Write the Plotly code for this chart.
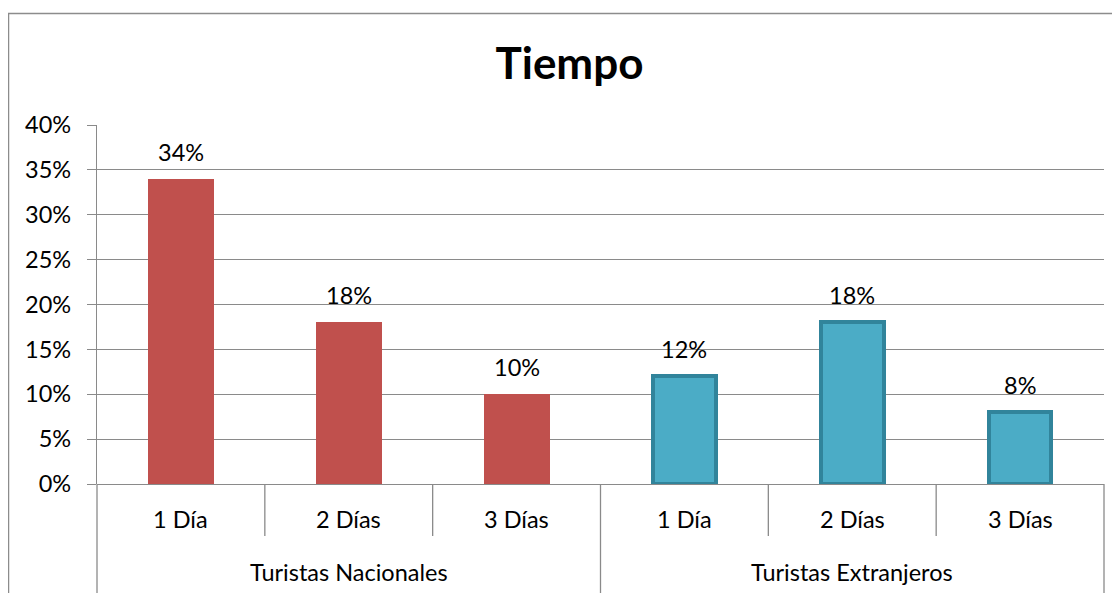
import plotly.graph_objects as go

# ---- data ----
groups = ["Turistas Nacionales", "Turistas Extranjeros"]
days = ["1 Día", "2 Días", "3 Días"]
nacionales = [0.34, 0.18, 0.10]
extranjeros = [0.12, 0.18, 0.08]
y_ticks = [0, 0.05, 0.10, 0.15, 0.20, 0.25, 0.30, 0.35, 0.40]

FONT = "Lato"
FS = 23.5
GRID = "#8A8A8A"
RED = "#C0504D"
BLUE = "#4BACC6"
BLUE_EDGE = "#31849B"

# page body has an 8px margin; compensate so the chart lands on the window grid
OFF = 8
W, H = 1120 - OFF, 593 - OFF

n_cat = len(groups) * len(days)
pos_nac = [i + 0.5 for i in range(len(days))]
pos_ext = [len(days) + i + 0.5 for i in range(len(days))]
BAR_W = 0.393

fig = go.Figure()
fig.add_trace(go.Bar(x=pos_nac, y=nacionales, width=BAR_W,
                     marker=dict(color=RED, line=dict(width=0)),
                     name=groups[0], hoverinfo="y"))
fig.add_trace(go.Bar(x=pos_ext, y=extranjeros, width=BAR_W - 0.02,
                     marker=dict(color=BLUE, line=dict(color=BLUE_EDGE, width=4)),
                     name=groups[1], hoverinfo="y"))

annotations = []
# data labels
for xs, vals in ((pos_nac, nacionales), (pos_ext, extranjeros)):
    for x, v in zip(xs, vals):
        annotations.append(dict(x=x, y=v, xref="x", yref="y", text=f"{round(v*100)}%",
                                showarrow=False, yanchor="middle", yshift=27,
                                font=dict(family=FONT, size=FS, color="#000000")))
# category labels
for gi, g in enumerate(groups):
    for di, d in enumerate(days):
        annotations.append(dict(x=gi * len(days) + di + 0.5, y=0, xref="x", yref="paper",
                                text=d, showarrow=False, yanchor="middle", yshift=-35,
                                font=dict(family=FONT, size=FS, color="#000000")))
    annotations.append(dict(x=gi * len(days) + len(days) / 2, y=0, xref="x", yref="paper",
                            text=g, showarrow=False, yanchor="middle", yshift=-88,
                            font=dict(family=FONT, size=FS, color="#000000")))

PLOT_H = 359
PLOT_W = 1007
shapes = []
for k in range(n_cat + 1):
    xp = k / n_cat
    is_group = (k % len(days) == 0)
    y_end = -115 / PLOT_H if is_group else -52 / PLOT_H
    shapes.append(dict(type="line", xref="paper", yref="paper", x0=xp, x1=xp,
                       y0=0, y1=y_end, line=dict(color=GRID, width=1.3)))
# outer chart border
shapes.append(dict(type="rect", xref="paper", yref="paper",
                   x0=(8.5 - 97) / PLOT_W, x1=(1130 - 97) / PLOT_W,
                   y0=(484 - 620) / PLOT_H, y1=(484 - 13.5) / PLOT_H,
                   line=dict(color="#8C8C8C", width=1.5), layer="below"))

fig.update_layout(
    width=W, height=H,
    margin=dict(l=97 - OFF, r=16, t=125 - OFF, b=109),
    paper_bgcolor="white", plot_bgcolor="white",
    showlegend=False,
    title=dict(text="<b>Tiempo</b>", x=(569.5 - OFF) / W, xanchor="center",
               y=1 - (64 - OFF) / H, yanchor="middle",
               font=dict(family=FONT, size=44, color="#000000")),
    xaxis=dict(range=[0, n_cat], showgrid=False, showticklabels=False,
               zeroline=False, showline=False, ticks="", fixedrange=True),
    yaxis=dict(range=[0, 0.40], tickvals=y_ticks, tickformat=".0%",
               showgrid=True, gridcolor=GRID, gridwidth=1.3,
               zeroline=True, zerolinecolor=GRID, zerolinewidth=1.3,
               showline=True, linecolor=GRID, linewidth=1.3,
               ticks="outside", ticklen=9, tickcolor=GRID, tickwidth=1.3,
               ticklabelstandoff=11,
               tickfont=dict(family=FONT, size=FS, color="#000000"),
               fixedrange=True),
    annotations=annotations,
    shapes=shapes,
    bargap=0,
)

fig.write_html("out.html")
